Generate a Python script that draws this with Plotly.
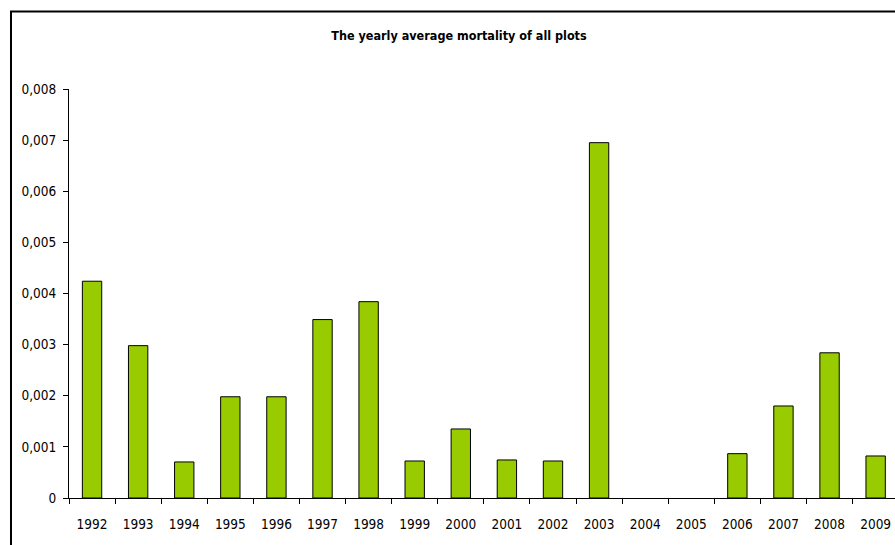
import plotly.graph_objects as go

years = ["1992", "1993", "1994", "1995", "1996", "1997", "1998", "1999", "2000",
         "2001", "2002", "2003", "2004", "2005", "2006", "2007", "2008", "2009"]
mortality = [0.00424, 0.00298, 0.000705, 0.00198, 0.00198, 0.00349, 0.00384, 0.000724,
             0.00135, 0.000744, 0.000724, 0.00695, 0.0, 0.0, 0.000867, 0.00180,
             0.00284, 0.000822]
y_tick_values = [0, 0.001, 0.002, 0.003, 0.004, 0.005, 0.006, 0.007, 0.008]
y_tick_labels = ["0", "0,001", "0,002", "0,003", "0,004", "0,005", "0,006", "0,007", "0,008"]
title_text = "The yearly average mortality of all plots"

FONT = "Liberation Sans Narrow, Arial Narrow, DejaVu Sans Condensed, Liberation Sans, Arial, sans-serif"

outline_widths = [0 if v == 0 else 1 for v in mortality]

fig = go.Figure(
    go.Bar(
        x=years,
        y=mortality,
        marker=dict(color="#99CC00", line=dict(color="#000000", width=outline_widths)),
        width=0.42,
    )
)

fig.update_layout(
    width=895,
    height=545,
    margin=dict(l=69, r=0, t=89, b=47),
    paper_bgcolor="white",
    plot_bgcolor="white",
    showlegend=False,
    font=dict(family=FONT, size=13, color="#000000"),
    title=dict(
        text="<b>" + title_text + "</b>",
        x=459 / 895,
        xanchor="center",
        y=1 - 36 / 545,
        yanchor="middle",
        font=dict(family=FONT, size=12.5, color="#000000"),
    ),
    xaxis=dict(
        type="category",
        range=[-0.5, 17.42],
        showline=True,
        linecolor="#000000",
        linewidth=1,
        ticks="outside",
        tickson="boundaries",
        ticklen=5,
        tickcolor="#000000",
        showgrid=False,
        zeroline=False,
        tickfont=dict(family=FONT, size=13.5),
        ticklabelstandoff=14,
        fixedrange=True,
    ),
    yaxis=dict(
        range=[0, 0.008],
        tickvals=y_tick_values,
        ticktext=y_tick_labels,
        showline=True,
        linecolor="#000000",
        linewidth=1,
        ticks="outside",
        ticklen=5,
        tickcolor="#000000",
        showgrid=False,
        zeroline=False,
        tickfont=dict(family=FONT, size=13.5),
        ticklabelstandoff=4,
        fixedrange=True,
    ),
    shapes=[
        dict(
            type="rect",
            xref="paper",
            yref="paper",
            x0=(11 - 69) / 826,
            x1=1.2,
            y0=-0.3,
            y1=(498 - 11.5) / 409,
            line=dict(color="#000000", width=2),
            fillcolor="rgba(0,0,0,0)",
            layer="above",
        )
    ],
)

fig.write_html(
    "out.html",
    config={"displayModeBar": False},
    post_script="document.body.style.margin='0';document.body.style.overflow='hidden';",
)
